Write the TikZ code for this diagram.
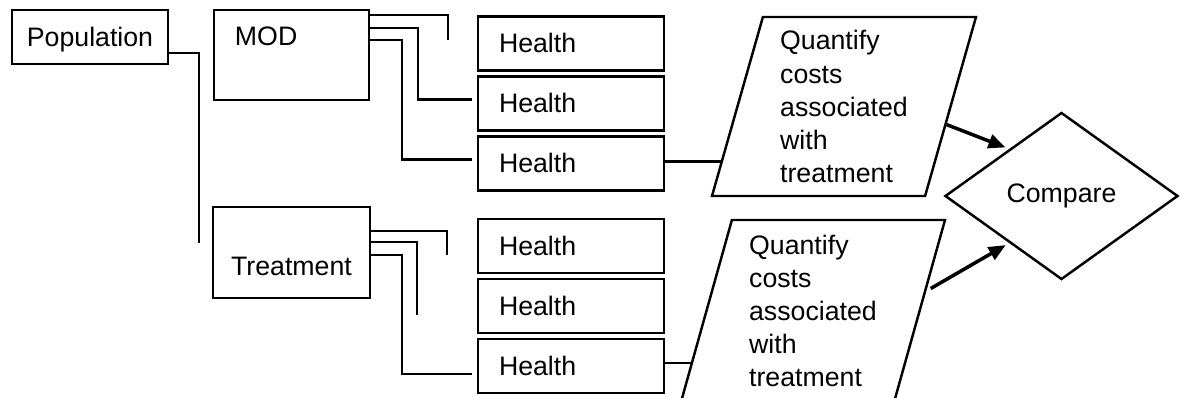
\documentclass[tikz,border=0pt]{standalone}
\usepackage{fontspec}
\setmainfont{Liberation Sans}
\usepackage{tikz}
\usetikzlibrary{shapes.geometric,arrows.meta}
\pgfdeclarelayer{edgelayer}
\pgfdeclarelayer{nodelayer}
\pgfsetlayers{edgelayer,nodelayer,main}
\tikzstyle{box}=[rectangle,draw=black,line width=0.7pt,inner ysep=0pt,text height=0.36cm,text depth=0.18cm]
\tikzstyle{leftbox}=[box,align=left,inner xsep=0.21cm]
\tikzstyle{health}=[leftbox,text width=1.44cm]
\tikzstyle{costs}=[trapezium,draw=black,line width=0.7pt,trapezium left angle=73.8,trapezium right angle=106.2,trapezium stretches body=true,minimum width=2.64cm,minimum height=1.79cm,align=left]
\tikzstyle{decision}=[diamond,draw=black,line width=0.7pt,minimum width=2.33cm,minimum height=1.67cm,inner sep=0pt]
\tikzstyle{wire}=[-,line width=0.7pt]
\tikzstyle{flowarrow}=[-{Triangle[length=0.17cm,width=0.14cm]},line width=1pt,shorten >=0.04cm]

\begin{document}
\begin{tikzpicture}[font=\fontsize{7.6}{9.4}\selectfont]
	\useasboundingbox (0,0) rectangle (11.85,-3.98);
	\begin{pgfonlayer}{nodelayer}
		\node [style=box, minimum width=1.56cm] (pop) at (0.90,-0.37) {Population};
		\node [style=leftbox, text width=1.13cm, text height=0.35cm, text depth=0.55cm] (mod) at (2.915,-0.55) {MOD};
		\node [style=box, minimum width=1.57cm, text height=0.68cm, text depth=0.23cm] (trt) at (2.915,-2.525) {Treatment};

		\node [style=health] (h1) at (5.71,-0.435) {Health};
		\node [style=health] (h2) at (5.71,-1.035) {Health};
		\node [style=health] (h3) at (5.71,-1.635) {Health};
		\node [style=health] (h4) at (5.71,-2.46) {Health};
		\node [style=health] (h5) at (5.71,-3.06) {Health};
		\node [style=health] (h6) at (5.71,-3.66) {Health};

		\node [style=costs] (q1) at (8.44,-1.065) {Quantify\\costs\\associated\\with\\treatment};
		\node [style=costs, minimum height=1.82cm] (q2) at (8.13,-3.11) {Quantify\\costs\\associated\\with\\treatment};
		\node [style=decision] (cmp) at (10.615,-1.96) {Compare};

		\coordinate (p1) at (1.99,-2.43);
		\coordinate (m1) at (4.48,-0.40);
		\coordinate (t1) at (4.47,-2.55);
		\coordinate (t2) at (4.17,-3.15);
	\end{pgfonlayer}
	\begin{pgfonlayer}{edgelayer}
		\draw [style=wire] ([yshift=0.12cm]pop.south east) -| (p1);
		\draw [style=wire] ([yshift=-0.06cm]mod.north east) -| (m1);
		\draw [style=wire, shorten >=0.05cm] ([yshift=-0.19cm]mod.north east) -- ++(0.48,0) |- ([yshift=0.04cm]h2.west);
		\draw [style=wire, shorten >=0.05cm] ([yshift=-0.31cm]mod.north east) -- ++(0.32,0) |- ([yshift=0.04cm]h3.west);
		\draw [style=wire] ([yshift=-0.25cm]trt.north east) -| (t1);
		\draw [style=wire] ([yshift=-0.36cm]trt.north east) -| (t2);
		\draw [style=wire, shorten >=0.05cm] ([yshift=-0.49cm]trt.north east) -- ++(0.31,0) |- ([yshift=-0.08cm]h6.west);
		\draw [style=wire] (h3.east |- q1.204) to (q1.204);
		\draw [style=wire] (h6.east |- q2.203) to (q2.203);
		\draw [style=flowarrow] (q1.350) to (cmp.138);
		\draw [style=flowarrow, shorten <=0.05cm] (q2.10) to (cmp.222);
	\end{pgfonlayer}
\end{tikzpicture}
\end{document}
